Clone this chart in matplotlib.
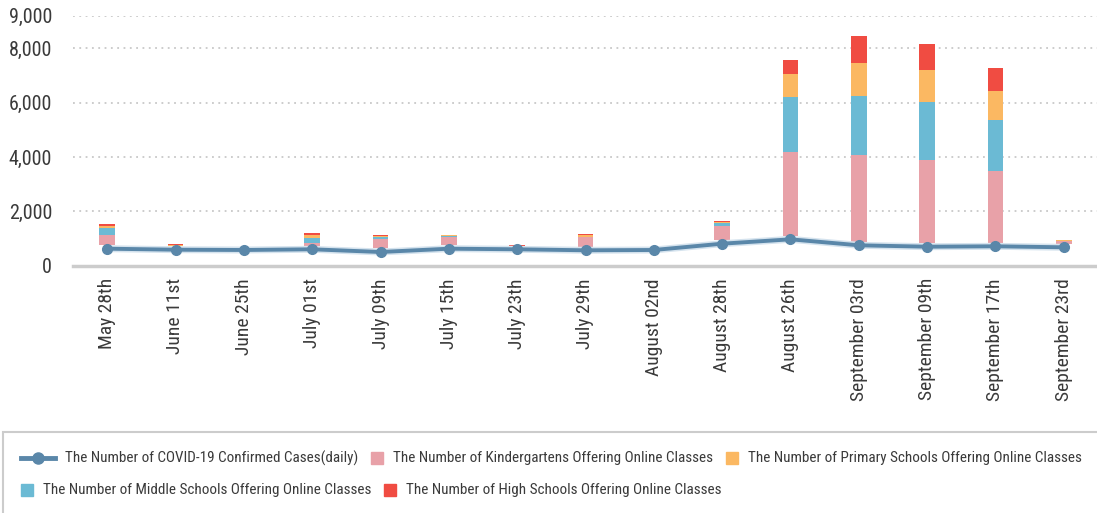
import matplotlib
matplotlib.use("Agg")
import matplotlib.pyplot as plt
import numpy as np
from matplotlib import font_manager as fm
from matplotlib.lines import Line2D
from matplotlib.patches import Rectangle

categories = ["May 28th", "June 11st", "June 25th", "July 01st", "July 09th", "July 15th",
              "July 23th", "July 29th", "August 02nd", "August 28th", "August 26th",
              "September 03rd", "September 09th", "September 17th", "September 23rd"]
cases = [626, 589, 578, 604, 504, 626, 604, 567, 578, 810, 971, 751, 699, 714, 677]
kindergarten = [368, 10, 0, 110, 331, 295, 0, 343, 0, 515, 3092, 3177, 3055, 2650, 100]
middle = [258, 5, 0, 184, 74, 36, 0, 20, 0, 111, 2024, 2197, 2135, 1878, 15]
primary = [73, 20, 5, 111, 36, 37, 0, 60, 30, 36, 846, 1215, 1178, 1067, 10]
high = [74, 30, 30, 73, 37, 5, 30, 40, 0, 37, 516, 993, 957, 847, 30]
ytick_vals = [0, 2000, 4000, 6000, 8000, 9200]
ytick_labels = ["0", "2,000", "4,000", "6,000", "8,000", "9,000"]
series_labels = ["The Number of COVID-19 Confirmed Cases(daily)",
                 "The Number of Kindergartens Offering Online Classes",
                 "The Number of Primary Schools Offering Online Classes",
                 "The Number of Middle Schools Offering Online Classes",
                 "The Number of High Schools Offering Online Classes"]

available = {f.name for f in fm.fontManager.ttflist}
if "Roboto Condensed" in available:
    main_font = "Roboto Condensed"
    fs_y, fs_x, fs_leg = 14.5, 14, 10.9
elif "Liberation Sans Narrow" in available:
    main_font = "Liberation Sans Narrow"
    fs_y, fs_x, fs_leg = 15, 14, 11
else:
    main_font = "Noto Sans CJK KR"
    fs_y, fs_x, fs_leg = 15, 12.3, 9.0
plt.rcParams["font.family"] = [main_font, "DejaVu Sans"]

C_LINE = "#5A87A9"
C_K = "#E8A1A8"
C_P = "#FBB862"
C_M = "#6BBAD4"
C_H = "#F04C42"
TXT = "#3a3a3a"

W, H = 1097, 513
fig = plt.figure(figsize=(W / 100, H / 100), dpi=100)
ax = fig.add_axes([73 / W, 247.3 / H, 1025 / W, 250 / H])

# visual gap between the line marker and the stacked bars (style only)
BAR_GAP = 130

x = np.arange(len(categories))
w = 0.234
b0 = np.array(cases, dtype=float) + BAR_GAP
b1 = b0 + np.array(kindergarten)
b2 = b1 + np.array(middle)
b3 = b2 + np.array(primary)
ax.bar(x, kindergarten, w, bottom=b0, color=C_K, zorder=2)
ax.bar(x, middle, w, bottom=b1, color=C_M, zorder=2)
ax.bar(x, primary, w, bottom=b2, color=C_P, zorder=2)
ax.bar(x, high, w, bottom=b3, color=C_H, zorder=2)
ax.plot(x, cases, color="#d5e3ee", lw=5, zorder=3, solid_capstyle="round")
ax.plot(x, cases, color=C_LINE, lw=2.8, marker="o", ms=7, zorder=4)

ax.set_xlim(-0.5, len(categories) - 0.5)
ax.set_ylim(0, 9200)
ax.set_yticks(ytick_vals)
ax.set_yticklabels(ytick_labels, fontsize=fs_y, color=TXT)
ax.set_xticks(x)
ax.set_xticklabels(categories, rotation=90, fontsize=fs_x, color=TXT)
ax.tick_params(axis="both", length=0)
ax.tick_params(axis="y", pad=15)
ax.tick_params(axis="x", pad=9)
for s in ["top", "right", "left"]:
    ax.spines[s].set_visible(False)
ax.spines["bottom"].set_color("#cccccc")
ax.spines["bottom"].set_linewidth(2.5)
ax.yaxis.grid(True, linestyle=(0, (1, 2.5)), color="#c8c8c8", lw=1.3, zorder=0)
ax.set_axisbelow(True)

# legend frame
fig.patches.append(Rectangle((3 / W, -0.05), 1.1, (H - 432) / H + 0.05,
                             transform=fig.transFigure, fill=False,
                             edgecolor="#cccccc", lw=1.5))

# flow-layout legend (pixel coordinates from top-left)
renderer = fig.canvas.get_renderer()
rows = [[("line", C_LINE, series_labels[0]), ("sq", C_K, series_labels[1]),
         ("sq", C_P, series_labels[2])],
        [("sq", C_M, series_labels[3]), ("sq", C_H, series_labels[4])]]
row_y = [458, 490]
for items, yc in zip(rows, row_y):
    xp = 21
    fy = 1 - yc / H
    for kind, col, lab in items:
        if kind == "line":
            fig.add_artist(Line2D([xp / W, (xp + 34) / W], [fy, fy], color=C_LINE,
                                  lw=3.5, transform=fig.transFigure))
            fig.add_artist(Line2D([(xp + 17) / W], [fy], color=C_LINE, marker="o",
                                  ms=8, transform=fig.transFigure))
            tx = xp + 44
        else:
            fig.patches.append(Rectangle((xp / W, fy - 6 / H), 12 / W, 12 / H,
                                         transform=fig.transFigure, color=col))
            tx = xp + 22
        t = fig.text(tx / W, fy, lab, fontsize=fs_leg, color=TXT, va="center", ha="left")
        bb = t.get_window_extent(renderer=renderer)
        xp = bb.x1 + 13

fig.savefig("out.png", dpi=100)
